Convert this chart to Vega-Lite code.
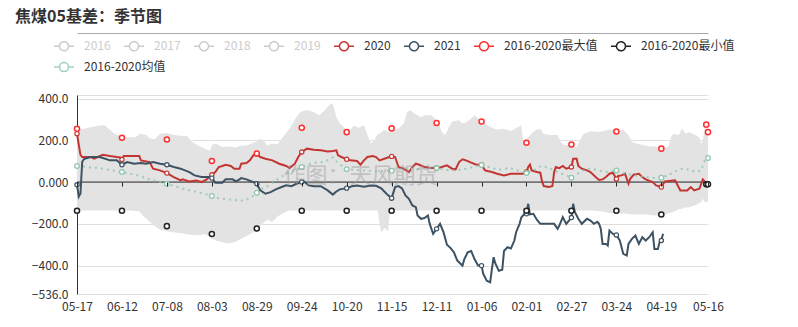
{
"$schema": "https://vega.github.io/schema/vega-lite/v6.json",
"padding": {"left": 7, "top": 9, "right": 5, "bottom": 5},
"title": {"text": "焦煤05基差：季节图", "anchor": "start", "frame": "bounds", "fontSize": 16, "fontWeight": "bold", "font": "Noto Sans CJK SC", "color": "#333", "dx": 8, "offset": 8},
"config": {"view": {"stroke": null}, "font": "Noto Sans CJK SC"},
"width": 631, "height": 199,
"resolve": {"axis": {"x": "independent"}},
"datasets": {
"band": [
{"d":0,"hi":252,"lo":-136},{"d":4,"hi":255,"lo":-136},{"d":8,"hi":262,"lo":-136},{"d":12,"hi":270,"lo":-136},{"d":16,"hi":272,"lo":-136},{"d":19,"hi":250,"lo":-136},{"d":22,"hi":230,"lo":-136},{"d":26,"hi":215,"lo":-136},{"d":30,"hi":215,"lo":-136},{"d":34,"hi":215,"lo":-138},{"d":36,"hi":230,"lo":-140},{"d":38,"hi":230,"lo":-160},{"d":40,"hi":225,"lo":-175},{"d":42,"hi":210,"lo":-190},{"d":45,"hi":205,"lo":-210},{"d":48,"hi":232,"lo":-228},{"d":52,"hi":235,"lo":-236},{"d":56,"hi":225,"lo":-240},{"d":60,"hi":222,"lo":-245},{"d":64,"hi":220,"lo":-250},{"d":66,"hi":195,"lo":-252},{"d":70,"hi":175,"lo":-255},{"d":74,"hi":160,"lo":-250},{"d":77,"hi":150,"lo":-262},{"d":78,"hi":176,"lo":-270},{"d":80,"hi":185,"lo":-278},{"d":84,"hi":168,"lo":-288},{"d":88,"hi":170,"lo":-294},{"d":92,"hi":165,"lo":-285},{"d":95,"hi":175,"lo":-272},{"d":98,"hi":175,"lo":-260},{"d":101,"hi":185,"lo":-245},{"d":104,"hi":195,"lo":-225},{"d":106,"hi":208,"lo":-210},{"d":108,"hi":200,"lo":-195},{"d":110,"hi":175,"lo":-180},{"d":113,"hi":185,"lo":-190},{"d":116,"hi":180,"lo":-165},{"d":119,"hi":215,"lo":-150},{"d":121,"hi":235,"lo":-142},{"d":123,"hi":256,"lo":-136},{"d":126,"hi":300,"lo":-136},{"d":129,"hi":335,"lo":-136},{"d":133,"hi":345,"lo":-136},{"d":137,"hi":335,"lo":-136},{"d":140,"hi":320,"lo":-136},{"d":143,"hi":340,"lo":-136},{"d":146,"hi":370,"lo":-136},{"d":148,"hi":376,"lo":-136},{"d":150,"hi":312,"lo":-136},{"d":152,"hi":280,"lo":-136},{"d":155,"hi":256,"lo":-136},{"d":157,"hi":240,"lo":-136},{"d":160,"hi":270,"lo":-136},{"d":163,"hi":260,"lo":-136},{"d":166,"hi":272,"lo":-136},{"d":168,"hi":225,"lo":-136},{"d":170,"hi":185,"lo":-136},{"d":172,"hi":200,"lo":-136},{"d":174,"hi":232,"lo":-136},{"d":175,"hi":232,"lo":-200},{"d":176,"hi":240,"lo":-240},{"d":178,"hi":250,"lo":-220},{"d":180,"hi":240,"lo":-236},{"d":181,"hi":240,"lo":-140},{"d":184,"hi":250,"lo":-136},{"d":186,"hi":256,"lo":-136},{"d":189,"hi":280,"lo":-136},{"d":191,"hi":336,"lo":-136},{"d":193,"hi":344,"lo":-136},{"d":195,"hi":330,"lo":-136},{"d":197,"hi":320,"lo":-136},{"d":199,"hi":310,"lo":-136},{"d":201,"hi":320,"lo":-136},{"d":205,"hi":320,"lo":-136},{"d":209,"hi":290,"lo":-136},{"d":211,"hi":240,"lo":-136},{"d":213,"hi":224,"lo":-136},{"d":215,"hi":260,"lo":-136},{"d":217,"hi":290,"lo":-136},{"d":221,"hi":296,"lo":-136},{"d":223,"hi":280,"lo":-136},{"d":225,"hi":285,"lo":-136},{"d":228,"hi":304,"lo":-136},{"d":230,"hi":320,"lo":-136},{"d":232,"hi":305,"lo":-136},{"d":236,"hi":280,"lo":-136},{"d":240,"hi":260,"lo":-136},{"d":243,"hi":250,"lo":-136},{"d":247,"hi":255,"lo":-136},{"d":251,"hi":245,"lo":-136},{"d":255,"hi":262,"lo":-136},{"d":257,"hi":272,"lo":-136},{"d":258,"hi":200,"lo":-136},{"d":260,"hi":205,"lo":-136},{"d":262,"hi":224,"lo":-136},{"d":265,"hi":248,"lo":-136},{"d":268,"hi":255,"lo":-136},{"d":270,"hi":230,"lo":-136},{"d":274,"hi":225,"lo":-136},{"d":278,"hi":225,"lo":-136},{"d":280,"hi":190,"lo":-136},{"d":282,"hi":176,"lo":-136},{"d":285,"hi":180,"lo":-136},{"d":289,"hi":168,"lo":-136},{"d":293,"hi":232,"lo":-136},{"d":297,"hi":243,"lo":-136},{"d":301,"hi":240,"lo":-138},{"d":305,"hi":245,"lo":-142},{"d":308,"hi":253,"lo":-148},{"d":312,"hi":245,"lo":-150},{"d":316,"hi":250,"lo":-150},{"d":319,"hi":224,"lo":-152},{"d":321,"hi":192,"lo":-155},{"d":324,"hi":184,"lo":-155},{"d":328,"hi":176,"lo":-155},{"d":331,"hi":170,"lo":-158},{"d":335,"hi":170,"lo":-160},{"d":338,"hi":160,"lo":-160},{"d":342,"hi":170,"lo":-150},{"d":344,"hi":224,"lo":-145},{"d":346,"hi":232,"lo":-140},{"d":348,"hi":224,"lo":-130},{"d":350,"hi":256,"lo":-128},{"d":352,"hi":232,"lo":-122},{"d":354,"hi":240,"lo":-120},{"d":358,"hi":224,"lo":-110},{"d":360,"hi":215,"lo":-100},{"d":361,"hi":184,"lo":-96},{"d":362,"hi":200,"lo":-80},{"d":363,"hi":258,"lo":-96},{"d":365,"hi":258,"lo":-96}
],
"extremes": [
{"s":"2016-2020最大值","d":0,"v":255},{"s":"2016-2020最大值","d":26,"v":212},{"s":"2016-2020最大值","d":52,"v":204},{"s":"2016-2020最大值","d":78,"v":101},{"s":"2016-2020最大值","d":104,"v":137},{"s":"2016-2020最大值","d":130,"v":260},{"s":"2016-2020最大值","d":156,"v":239},{"s":"2016-2020最大值","d":182,"v":257},{"s":"2016-2020最大值","d":208,"v":283},{"s":"2016-2020最大值","d":234,"v":290},{"s":"2016-2020最大值","d":260,"v":188},{"s":"2016-2020最大值","d":286,"v":180},{"s":"2016-2020最大值","d":312,"v":242},{"s":"2016-2020最大值","d":338,"v":160},{"s":"2016-2020最大值","d":364,"v":275},{"s":"2016-2020最大值","d":365,"v":239},
{"s":"2016-2020最小值","d":0,"v":-137},{"s":"2016-2020最小值","d":26,"v":-137},{"s":"2016-2020最小值","d":52,"v":-211},{"s":"2016-2020最小值","d":78,"v":-249},{"s":"2016-2020最小值","d":104,"v":-222},{"s":"2016-2020最小值","d":130,"v":-137},{"s":"2016-2020最小值","d":156,"v":-137},{"s":"2016-2020最小值","d":182,"v":-137},{"s":"2016-2020最小值","d":208,"v":-137},{"s":"2016-2020最小值","d":234,"v":-137},{"s":"2016-2020最小值","d":260,"v":-137},{"s":"2016-2020最小值","d":286,"v":-137},{"s":"2016-2020最小值","d":312,"v":-137},{"s":"2016-2020最小值","d":338,"v":-155},{"s":"2016-2020最小值","d":364,"v":-11},{"s":"2016-2020最小值","d":365,"v":-11}
],
"series": [
{"s":"2020","d":0,"v":232},{"s":"2020","d":1,"v":180},{"s":"2020","d":2,"v":130},{"s":"2020","d":3,"v":120},{"s":"2020","d":8,"v":120},{"s":"2020","d":10,"v":112},{"s":"2020","d":12,"v":120},{"s":"2020","d":15,"v":131},{"s":"2020","d":19,"v":125},{"s":"2020","d":23,"v":120},{"s":"2020","d":25,"v":118},{"s":"2020","d":26,"v":108},{"s":"2020","d":27,"v":125},{"s":"2020","d":36,"v":125},{"s":"2020","d":37,"v":104},{"s":"2020","d":42,"v":96},{"s":"2020","d":44,"v":64},{"s":"2020","d":48,"v":56},{"s":"2020","d":52,"v":43},{"s":"2020","d":56,"v":24},{"s":"2020","d":60,"v":8},{"s":"2020","d":61,"v":13},{"s":"2020","d":65,"v":3},{"s":"2020","d":69,"v":8},{"s":"2020","d":72,"v":0},{"s":"2020","d":75,"v":13},{"s":"2020","d":78,"v":35},{"s":"2020","d":80,"v":48},{"s":"2020","d":82,"v":72},{"s":"2020","d":84,"v":77},{"s":"2020","d":86,"v":83},{"s":"2020","d":89,"v":77},{"s":"2020","d":91,"v":64},{"s":"2020","d":94,"v":64},{"s":"2020","d":95,"v":88},{"s":"2020","d":98,"v":91},{"s":"2020","d":100,"v":104},{"s":"2020","d":102,"v":128},{"s":"2020","d":104,"v":134},{"s":"2020","d":106,"v":120},{"s":"2020","d":109,"v":112},{"s":"2020","d":113,"v":104},{"s":"2020","d":117,"v":88},{"s":"2020","d":121,"v":77},{"s":"2020","d":123,"v":67},{"s":"2020","d":126,"v":88},{"s":"2020","d":128,"v":120},{"s":"2020","d":130,"v":144},{"s":"2020","d":133,"v":160},{"s":"2020","d":137,"v":155},{"s":"2020","d":141,"v":152},{"s":"2020","d":145,"v":147},{"s":"2020","d":148,"v":149},{"s":"2020","d":150,"v":152},{"s":"2020","d":151,"v":128},{"s":"2020","d":153,"v":120},{"s":"2020","d":156,"v":109},{"s":"2020","d":158,"v":104},{"s":"2020","d":162,"v":101},{"s":"2020","d":164,"v":83},{"s":"2020","d":166,"v":104},{"s":"2020","d":168,"v":120},{"s":"2020","d":171,"v":125},{"s":"2020","d":173,"v":120},{"s":"2020","d":175,"v":104},{"s":"2020","d":179,"v":115},{"s":"2020","d":182,"v":123},{"s":"2020","d":184,"v":120},{"s":"2020","d":186,"v":72},{"s":"2020","d":189,"v":64},{"s":"2020","d":192,"v":48},{"s":"2020","d":194,"v":72},{"s":"2020","d":196,"v":88},{"s":"2020","d":198,"v":83},{"s":"2020","d":201,"v":72},{"s":"2020","d":205,"v":67},{"s":"2020","d":208,"v":67},{"s":"2020","d":211,"v":72},{"s":"2020","d":214,"v":80},{"s":"2020","d":217,"v":64},{"s":"2020","d":219,"v":61},{"s":"2020","d":221,"v":96},{"s":"2020","d":223,"v":109},{"s":"2020","d":225,"v":104},{"s":"2020","d":228,"v":93},{"s":"2020","d":231,"v":83},{"s":"2020","d":234,"v":83},{"s":"2020","d":236,"v":56},{"s":"2020","d":240,"v":48},{"s":"2020","d":243,"v":40},{"s":"2020","d":247,"v":32},{"s":"2020","d":251,"v":40},{"s":"2020","d":258,"v":40},{"s":"2020","d":260,"v":48},{"s":"2020","d":261,"v":72},{"s":"2020","d":262,"v":83},{"s":"2020","d":263,"v":56},{"s":"2020","d":266,"v":48},{"s":"2020","d":268,"v":45},{"s":"2020","d":269,"v":3},{"s":"2020","d":270,"v":-19},{"s":"2020","d":273,"v":-24},{"s":"2020","d":275,"v":-19},{"s":"2020","d":276,"v":48},{"s":"2020","d":277,"v":72},{"s":"2020","d":279,"v":67},{"s":"2020","d":281,"v":77},{"s":"2020","d":283,"v":64},{"s":"2020","d":286,"v":72},{"s":"2020","d":287,"v":112},{"s":"2020","d":289,"v":112},{"s":"2020","d":290,"v":77},{"s":"2020","d":292,"v":64},{"s":"2020","d":295,"v":56},{"s":"2020","d":297,"v":48},{"s":"2020","d":300,"v":24},{"s":"2020","d":302,"v":10},{"s":"2020","d":304,"v":13},{"s":"2020","d":306,"v":24},{"s":"2020","d":308,"v":40},{"s":"2020","d":310,"v":45},{"s":"2020","d":312,"v":15},{"s":"2020","d":313,"v":29},{"s":"2020","d":315,"v":32},{"s":"2020","d":317,"v":40},{"s":"2020","d":319,"v":-8},{"s":"2020","d":320,"v":16},{"s":"2020","d":322,"v":35},{"s":"2020","d":325,"v":40},{"s":"2020","d":327,"v":24},{"s":"2020","d":329,"v":13},{"s":"2020","d":333,"v":0},{"s":"2020","d":335,"v":-16},{"s":"2020","d":338,"v":-24},{"s":"2020","d":340,"v":3},{"s":"2020","d":346,"v":8},{"s":"2020","d":347,"v":-8},{"s":"2020","d":349,"v":-40},{"s":"2020","d":353,"v":-40},{"s":"2020","d":355,"v":-24},{"s":"2020","d":357,"v":-40},{"s":"2020","d":360,"v":-32},{"s":"2020","d":362,"v":13},{"s":"2020","d":363,"v":3},{"s":"2020","d":364,"v":-8},{"s":"2020","d":365,"v":-10},
{"s":"2021","d":0,"v":-13},{"s":"2021","d":1,"v":-70},{"s":"2021","d":2,"v":-55},{"s":"2021","d":3,"v":96},{"s":"2021","d":4,"v":110},{"s":"2021","d":8,"v":120},{"s":"2021","d":13,"v":120},{"s":"2021","d":15,"v":115},{"s":"2021","d":19,"v":104},{"s":"2021","d":23,"v":104},{"s":"2021","d":26,"v":83},{"s":"2021","d":29,"v":96},{"s":"2021","d":33,"v":88},{"s":"2021","d":37,"v":91},{"s":"2021","d":40,"v":88},{"s":"2021","d":44,"v":96},{"s":"2021","d":48,"v":88},{"s":"2021","d":52,"v":83},{"s":"2021","d":56,"v":72},{"s":"2021","d":60,"v":64},{"s":"2021","d":61,"v":61},{"s":"2021","d":65,"v":48},{"s":"2021","d":68,"v":32},{"s":"2021","d":72,"v":24},{"s":"2021","d":76,"v":24},{"s":"2021","d":78,"v":19},{"s":"2021","d":80,"v":-3},{"s":"2021","d":84,"v":-3},{"s":"2021","d":86,"v":13},{"s":"2021","d":90,"v":13},{"s":"2021","d":92,"v":3},{"s":"2021","d":94,"v":13},{"s":"2021","d":95,"v":19},{"s":"2021","d":98,"v":13},{"s":"2021","d":101,"v":3},{"s":"2021","d":104,"v":-8},{"s":"2021","d":106,"v":-40},{"s":"2021","d":109,"v":-56},{"s":"2021","d":112,"v":-48},{"s":"2021","d":115,"v":-35},{"s":"2021","d":118,"v":-25},{"s":"2021","d":121,"v":-15},{"s":"2021","d":124,"v":-20},{"s":"2021","d":127,"v":-8},{"s":"2021","d":130,"v":0},{"s":"2021","d":131,"v":5},{"s":"2021","d":134,"v":-16},{"s":"2021","d":137,"v":-20},{"s":"2021","d":141,"v":-20},{"s":"2021","d":145,"v":-40},{"s":"2021","d":148,"v":-60},{"s":"2021","d":150,"v":-45},{"s":"2021","d":152,"v":-35},{"s":"2021","d":156,"v":-29},{"s":"2021","d":159,"v":-20},{"s":"2021","d":162,"v":-16},{"s":"2021","d":166,"v":-22},{"s":"2021","d":170,"v":-16},{"s":"2021","d":173,"v":-18},{"s":"2021","d":176,"v":-30},{"s":"2021","d":179,"v":-56},{"s":"2021","d":182,"v":-77},{"s":"2021","d":184,"v":-24},{"s":"2021","d":186,"v":-19},{"s":"2021","d":188,"v":-30},{"s":"2021","d":190,"v":-64},{"s":"2021","d":192,"v":-80},{"s":"2021","d":194,"v":-112},{"s":"2021","d":196,"v":-120},{"s":"2021","d":197,"v":-160},{"s":"2021","d":199,"v":-176},{"s":"2021","d":201,"v":-172},{"s":"2021","d":203,"v":-160},{"s":"2021","d":204,"v":-200},{"s":"2021","d":206,"v":-248},{"s":"2021","d":208,"v":-224},{"s":"2021","d":210,"v":-200},{"s":"2021","d":212,"v":-240},{"s":"2021","d":214,"v":-300},{"s":"2021","d":216,"v":-315},{"s":"2021","d":218,"v":-336},{"s":"2021","d":220,"v":-376},{"s":"2021","d":222,"v":-392},{"s":"2021","d":223,"v":-400},{"s":"2021","d":224,"v":-370},{"s":"2021","d":226,"v":-336},{"s":"2021","d":228,"v":-330},{"s":"2021","d":230,"v":-370},{"s":"2021","d":232,"v":-400},{"s":"2021","d":234,"v":-400},{"s":"2021","d":235,"v":-440},{"s":"2021","d":237,"v":-472},{"s":"2021","d":239,"v":-480},{"s":"2021","d":240,"v":-416},{"s":"2021","d":241,"v":-360},{"s":"2021","d":242,"v":-390},{"s":"2021","d":244,"v":-425},{"s":"2021","d":246,"v":-420},{"s":"2021","d":247,"v":-330},{"s":"2021","d":249,"v":-312},{"s":"2021","d":251,"v":-318},{"s":"2021","d":253,"v":-280},{"s":"2021","d":254,"v":-240},{"s":"2021","d":256,"v":-200},{"s":"2021","d":257,"v":-170},{"s":"2021","d":259,"v":-150},{"s":"2021","d":260,"v":-152},{"s":"2021","d":261,"v":-104},{"s":"2021","d":262,"v":-155},{"s":"2021","d":264,"v":-152},{"s":"2021","d":266,"v":-180},{"s":"2021","d":268,"v":-200},{"s":"2021","d":272,"v":-200},{"s":"2021","d":276,"v":-200},{"s":"2021","d":278,"v":-224},{"s":"2021","d":279,"v":-208},{"s":"2021","d":281,"v":-168},{"s":"2021","d":283,"v":-200},{"s":"2021","d":286,"v":-170},{"s":"2021","d":287,"v":-104},{"s":"2021","d":288,"v":-144},{"s":"2021","d":290,"v":-176},{"s":"2021","d":292,"v":-200},{"s":"2021","d":295,"v":-176},{"s":"2021","d":297,"v":-184},{"s":"2021","d":299,"v":-200},{"s":"2021","d":301,"v":-190},{"s":"2021","d":302,"v":-200},{"s":"2021","d":303,"v":-224},{"s":"2021","d":304,"v":-296},{"s":"2021","d":306,"v":-296},{"s":"2021","d":307,"v":-304},{"s":"2021","d":308,"v":-232},{"s":"2021","d":310,"v":-248},{"s":"2021","d":312,"v":-253},{"s":"2021","d":314,"v":-280},{"s":"2021","d":316,"v":-344},{"s":"2021","d":318,"v":-352},{"s":"2021","d":319,"v":-296},{"s":"2021","d":321,"v":-272},{"s":"2021","d":323,"v":-256},{"s":"2021","d":325,"v":-296},{"s":"2021","d":327,"v":-264},{"s":"2021","d":329,"v":-280},{"s":"2021","d":331,"v":-264},{"s":"2021","d":333,"v":-240},{"s":"2021","d":334,"v":-320},{"s":"2021","d":336,"v":-320},{"s":"2021","d":337,"v":-288},{"s":"2021","d":338,"v":-280},{"s":"2021","d":339,"v":-248},
{"s":"2016-2020均值","d":0,"v":77},{"s":"2016-2020均值","d":6,"v":72},{"s":"2016-2020均值","d":15,"v":64},{"s":"2016-2020均值","d":26,"v":48},{"s":"2016-2020均值","d":35,"v":32},{"s":"2016-2020均值","d":42,"v":13},{"s":"2016-2020均值","d":52,"v":-8},{"s":"2016-2020均值","d":60,"v":-29},{"s":"2016-2020均值","d":68,"v":-45},{"s":"2016-2020均值","d":74,"v":-56},{"s":"2016-2020均值","d":78,"v":-67},{"s":"2016-2020均值","d":82,"v":-77},{"s":"2016-2020均值","d":88,"v":-83},{"s":"2016-2020均值","d":94,"v":-88},{"s":"2016-2020均值","d":97,"v":-88},{"s":"2016-2020均值","d":101,"v":-72},{"s":"2016-2020均值","d":104,"v":-51},{"s":"2016-2020均值","d":107,"v":-32},{"s":"2016-2020均值","d":111,"v":-16},{"s":"2016-2020均值","d":115,"v":8},{"s":"2016-2020均值","d":119,"v":30},{"s":"2016-2020均值","d":125,"v":56},{"s":"2016-2020均值","d":130,"v":72},{"s":"2016-2020均值","d":137,"v":93},{"s":"2016-2020均值","d":143,"v":96},{"s":"2016-2020均值","d":146,"v":110},{"s":"2016-2020均值","d":148,"v":118},{"s":"2016-2020均值","d":151,"v":90},{"s":"2016-2020均值","d":156,"v":62},{"s":"2016-2020均值","d":164,"v":56},{"s":"2016-2020均值","d":173,"v":52},{"s":"2016-2020均值","d":182,"v":54},{"s":"2016-2020均值","d":189,"v":67},{"s":"2016-2020均值","d":196,"v":62},{"s":"2016-2020均值","d":202,"v":66},{"s":"2016-2020均值","d":208,"v":67},{"s":"2016-2020均值","d":214,"v":58},{"s":"2016-2020均值","d":218,"v":56},{"s":"2016-2020均值","d":225,"v":64},{"s":"2016-2020均值","d":234,"v":82},{"s":"2016-2020均值","d":241,"v":65},{"s":"2016-2020均值","d":245,"v":60},{"s":"2016-2020均值","d":250,"v":68},{"s":"2016-2020均值","d":254,"v":58},{"s":"2016-2020均值","d":260,"v":43},{"s":"2016-2020均值","d":264,"v":56},{"s":"2016-2020均值","d":268,"v":75},{"s":"2016-2020均值","d":272,"v":72},{"s":"2016-2020均值","d":278,"v":48},{"s":"2016-2020均值","d":283,"v":32},{"s":"2016-2020均值","d":286,"v":21},{"s":"2016-2020均值","d":289,"v":38},{"s":"2016-2020均值","d":293,"v":56},{"s":"2016-2020均值","d":297,"v":66},{"s":"2016-2020均值","d":302,"v":55},{"s":"2016-2020均值","d":306,"v":48},{"s":"2016-2020均值","d":312,"v":56},{"s":"2016-2020均值","d":317,"v":40},{"s":"2016-2020均值","d":323,"v":32},{"s":"2016-2020均值","d":329,"v":24},{"s":"2016-2020均值","d":335,"v":19},{"s":"2016-2020均值","d":338,"v":21},{"s":"2016-2020均值","d":342,"v":32},{"s":"2016-2020均值","d":346,"v":51},{"s":"2016-2020均值","d":350,"v":64},{"s":"2016-2020均值","d":354,"v":60},{"s":"2016-2020均值","d":358,"v":48},{"s":"2016-2020均值","d":361,"v":56},{"s":"2016-2020均值","d":363,"v":100},{"s":"2016-2020均值","d":365,"v":115}
]
},
"layer": [
{
"data": {"name": "band"},
"mark": {"type": "area", "color": "#e3e3e3", "opacity": 1},
"encoding": {
"x": {"field": "d", "type": "quantitative", "title": null, "scale": {"domain": [0, 365], "nice": false, "zero": false},
"axis": {"orient": "bottom", "values": [0,26,52,78,104,130,156,182,208,234,260,286,312,338,365], "tickCount": 20, "labelExpr": "timeFormat(datetime(2019, 4, 17 + datum.value), '%m-%d')", "offset": -112, "domain": false, "ticks": true, "tickSize": 4, "tickColor": "#222", "tickWidth": 1, "labelPadding": 115, "grid": false, "labelFlush": false, "labelOverlap": false, "labelBound": false, "labelFontSize": 12, "labelColor": "#333", "zindex": 1}},
"y": {"field": "hi", "type": "quantitative", "title": null, "scale": {"domain": [-536, 417], "nice": false, "zero": false},
"axis": {"values": [400,200,0,-200,-400,-536], "tickCount": 10, "labelExpr": "datum.value == 0 ? '0.000' : format(datum.value, '.1f')", "grid": true, "gridColor": "#e0e0e0", "gridWidth": 1, "domain": true, "domainColor": "#333", "ticks": false, "labelPadding": 9, "labelFontSize": 12, "labelColor": "#333", "labelFlush": false, "labelOverlap": false, "labelBound": false, "minExtent": 70}},
"y2": {"field": "lo"}
}
},
{
"data": {"values": [{}]},
"mark": {"type": "rule", "color": "#222", "strokeWidth": 1},
"encoding": {"y": {"datum": 0, "type": "quantitative", "title": null}}
},
{
"data": {"name": "series"},
"transform": [{"filter": {"field": "s", "oneOf": ["2020", "2021"]}}],
"mark": {"type": "line", "strokeWidth": 2, "interpolate": "linear"},
"encoding": {
"x": {"field": "d", "type": "quantitative", "title": null,
"axis": {"orient": "top", "offset": 62, "domain": true, "domainColor": "#aaaaaa", "domainWidth": 1, "labels": false, "ticks": false, "grid": false, "title": null}},
"y": {"field": "v", "type": "quantitative", "title": null},
"color": {"field": "s", "type": "nominal", "title": null,
"scale": {"domain": ["2016","2017","2018","2019","2020","2021","2016-2020最大值","2016-2020最小值"], "range": ["#cccccc","#cccccc","#cccccc","#cccccc","#c23531","#3d5263","#ff3030","#222222"]},
"legend": {"orient": "none", "legendX": -24, "legendY": -60, "direction": "horizontal", "title": null,
"symbolType": "M-1,0H-0.45M0.45,0H1M0.45,0A0.45,0.45,0,1,1,-0.45,0A0.45,0.45,0,1,1,0.45,0", "symbolSize": 400, "symbolStrokeWidth": 1.5, "symbolFillColor": "#fff",
"labelFontSize": 12, "labelFont": "Noto Sans CJK SC", "labelColor": "#333", "labelOffset": 9, "columnPadding": 10, "padding": 0, "labelLimit": 200,
"encode": {"labels": {"update": {"fill": {"signal": "indexof(['2016','2017','2018','2019'], datum.label) >= 0 ? '#cccccc' : '#333333'"}}},
"symbols": {"update": {"fill": {"value": "#ffffff"}, "stroke": {"scale": "color", "field": "value"}, "strokeDash": {"value": [1, 0]}, "opacity": {"value": 1}}}}}
}
}
},
{
"data": {"name": "series"},
"transform": [{"filter": {"field": "s", "equal": "2016-2020均值"}}],
"mark": {"type": "line", "strokeWidth": 2, "strokeDash": [2, 4], "opacity": 0.85},
"encoding": {
"x": {"field": "d", "type": "quantitative", "title": null, "axis": null},
"y": {"field": "v", "type": "quantitative", "title": null},
"stroke": {"field": "s", "type": "nominal", "title": null,
"scale": {"domain": ["2016-2020均值"], "range": ["#91c7ae"]},
"legend": {"orient": "none", "legendX": -24, "legendY": -39, "direction": "horizontal", "title": null,
"symbolType": "M-1,0H-0.45M0.45,0H1M0.45,0A0.45,0.45,0,1,1,-0.45,0A0.45,0.45,0,1,1,0.45,0", "symbolSize": 400, "symbolStrokeWidth": 1.5, "symbolFillColor": "#fff",
"labelFontSize": 12, "labelFont": "Noto Sans CJK SC", "labelColor": "#333", "labelOffset": 9, "padding": 0, "labelLimit": 200,
"encode": {"symbols": {"update": {"fill": {"value": "#ffffff"}, "stroke": {"value": "#91c7ae"}, "strokeDash": {"value": [1, 0]}, "opacity": {"value": 1}}}}}
}
}
},
{
"data": {"name": "series"},
"transform": [{"filter": {"field": "s", "oneOf": ["2020", "2021"]}}, {"filter": {"field": "d", "oneOf": [0,26,52,78,104,130,156,182,208,234,260,286,312,338,365]}}],
"mark": {"type": "point", "shape": "circle", "filled": false, "fill": "#ffffff", "fillOpacity": 1, "size": 18, "strokeWidth": 1.2, "opacity": 1},
"encoding": {
"x": {"field": "d", "type": "quantitative", "title": null, "axis": null},
"y": {"field": "v", "type": "quantitative", "title": null},
"color": {"field": "s", "type": "nominal", "title": null}
}
},
{
"data": {"name": "series"},
"transform": [{"filter": {"field": "s", "equal": "2016-2020均值"}}, {"filter": {"field": "d", "oneOf": [0,26,52,78,104,130,156,182,208,234,260,286,312,338,365]}}],
"mark": {"type": "point", "shape": "circle", "filled": false, "fill": "#ffffff", "fillOpacity": 1, "size": 22, "strokeWidth": 1.3, "opacity": 1},
"encoding": {
"x": {"field": "d", "type": "quantitative", "title": null, "axis": null},
"y": {"field": "v", "type": "quantitative", "title": null},
"stroke": {"field": "s", "type": "nominal", "title": null}
}
},
{
"data": {"name": "extremes"},
"mark": {"type": "point", "shape": "circle", "filled": false, "fill": "#ffffff", "fillOpacity": 1, "size": 26, "strokeWidth": 1.5, "opacity": 1},
"encoding": {
"x": {"field": "d", "type": "quantitative", "title": null, "axis": null},
"y": {"field": "v", "type": "quantitative", "title": null},
"color": {"field": "s", "type": "nominal", "title": null}
}
},
{
"data": {"values": [{}]},
"mark": {"type": "text", "text": "作图：天风期货", "fontSize": 22, "font": "Noto Sans CJK SC", "color": "#999999", "opacity": 0.45, "align": "center", "baseline": "middle"},
"encoding": {"x": {"datum": 164, "type": "quantitative",
"axis": {"orient": "top", "offset": 0, "domain": true, "domainColor": "#e0e0e0", "domainWidth": 1, "labels": false, "ticks": false, "grid": false, "title": null}},
"y": {"datum": 27, "type": "quantitative"}}
}
]
}
